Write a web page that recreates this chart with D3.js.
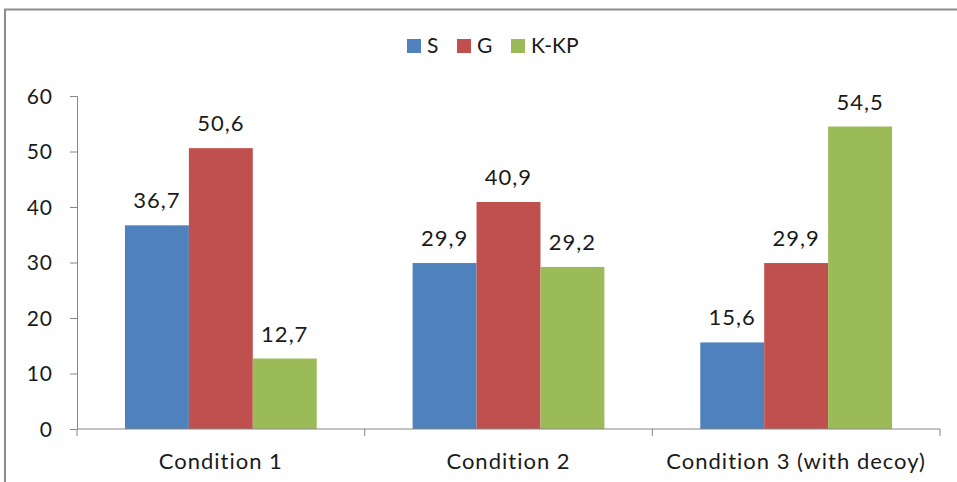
<!DOCTYPE html>
<html><head><meta charset="utf-8">
<script src="https://cdn.jsdelivr.net/npm/d3@7"></script>
<style>body{margin:0;background:#fff;} svg{display:block;} text{font-family:Lato,"Open Sans",sans-serif;fill:#1a1a1a;}</style>
</head><body>
<svg id="c" width="957" height="482"></svg>
<script>
const categories = ["Condition 1", "Condition 2", "Condition 3 (with decoy)"];
const seriesNames = ["S", "G", "K-KP"];
const valuesS = [36.7, 29.9, 15.6];
const valuesG = [50.6, 40.9, 29.9];
const valuesKKP = [12.7, 29.2, 54.5];
const yTicks = [0, 10, 20, 30, 40, 50, 60];
const colors = ["#4F81BD", "#C0504D", "#9BBB59"];

const seriesValues = [valuesS, valuesG, valuesKKP];
const svg = d3.select("#c");

// frame
svg.append("path").attr("d", "M5,482 V9.5 H957").attr("fill", "none").attr("stroke", "#8c8c8c").attr("stroke-width", 2);

const mLeft = 77, mRight = 940, mTop = 96, mBottom = 429;
const x0 = d3.scaleBand().domain(categories).range([mLeft, mRight]).padding(0);
const x1 = d3.scaleBand().domain(seriesNames).range([0, x0.bandwidth()]).paddingInner(0).paddingOuter(0.75);
const y = d3.scaleLinear().domain([0, 60]).range([mBottom, mTop]);

const fmt = v => d3.format(".1f")(v).replace(".", ",");

// bars
categories.forEach((c, i) => {
  const g = svg.append("g").attr("transform", `translate(${x0(c)},0)`);
  seriesNames.forEach((s, j) => {
    const v = seriesValues[j][i];
    g.append("rect").attr("x", x1(s)).attr("y", y(v)).attr("width", x1.bandwidth()).attr("height", y(0) - y(v)).attr("fill", colors[j]);
    g.append("text").attr("x", x1(s) + x1.bandwidth() / 2).attr("y", y(v) - 17).attr("text-anchor", "middle")
      .attr("font-size", 22).attr("letter-spacing", "1px").text(fmt(v));
  });
});

// y axis
const yAxis = d3.axisLeft(y).tickValues(yTicks).tickSize(7).tickPadding(17);
const ya = svg.append("g").attr("transform", `translate(${mLeft},0)`).call(yAxis);
ya.select(".domain").attr("stroke", "#868686");
ya.selectAll(".tick line").attr("stroke", "#868686");
ya.selectAll(".tick text").attr("font-size", 21).attr("font-family", "Lato").attr("fill", "#1a1a1a")
  .attr("letter-spacing", "1px").attr("dy", "0.35em");

// x axis
const xBoundary = d3.scaleLinear().domain([0, categories.length]).range([mLeft, mRight]);
const xa = svg.append("g").attr("transform", `translate(0,${mBottom})`);
xa.append("line").attr("x1", mLeft).attr("x2", mRight).attr("stroke", "#868686");
d3.range(categories.length + 1).forEach(k => {
  xa.append("line").attr("x1", xBoundary(k)).attr("x2", xBoundary(k)).attr("y1", 0).attr("y2", 7).attr("stroke", "#868686");
});
categories.forEach(c => {
  xa.append("text").attr("x", x0(c) + x0.bandwidth() / 2).attr("y", 40).attr("text-anchor", "middle")
    .attr("font-size", 22).attr("letter-spacing", "1px").text(c);
});

// legend
const legendX = [407, 457, 511];
const lg = svg.append("g");
seriesNames.forEach((s, j) => {
  lg.append("rect").attr("x", legendX[j]).attr("y", 39).attr("width", 14).attr("height", 14).attr("fill", colors[j]);
  lg.append("text").attr("x", legendX[j] + 20).attr("y", 53).attr("font-size", 21).text(s);
});
</script>
</body></html>
